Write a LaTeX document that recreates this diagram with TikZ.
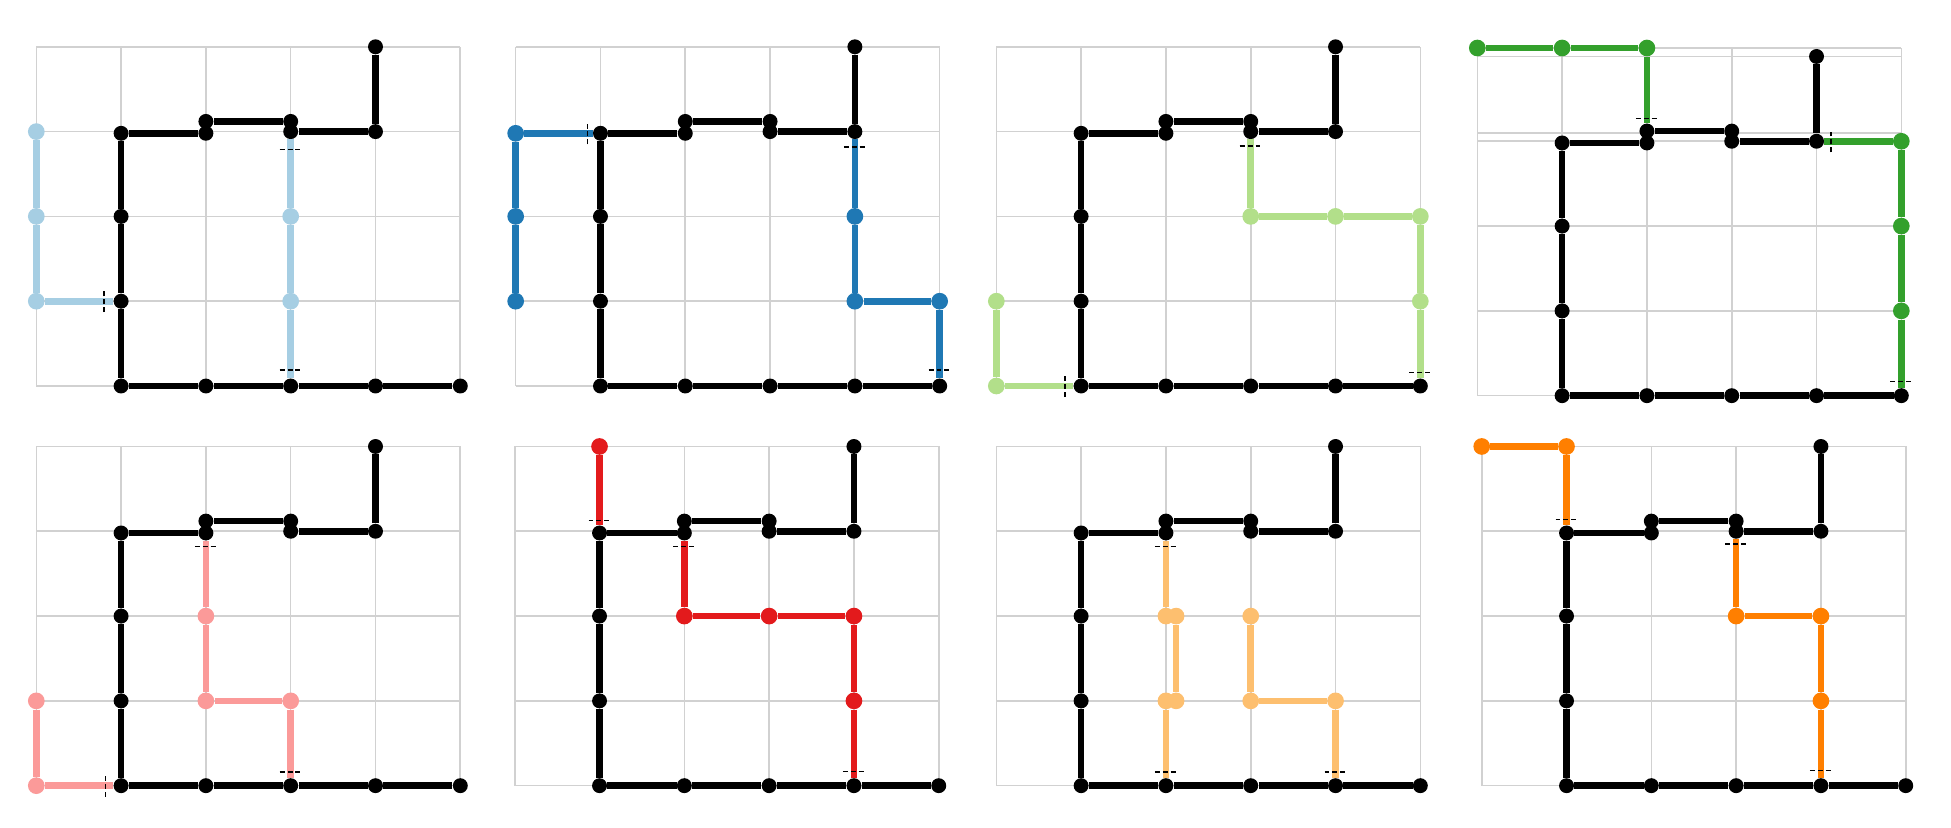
\documentclass[tikz,border=0pt]{standalone}
\usepackage{xcolor}
\definecolor{lb}{HTML}{A6CEE3}
\definecolor{db}{HTML}{1F78B4}
\definecolor{lg}{HTML}{B2DF8A}
\definecolor{dg}{HTML}{33A02C}
\definecolor{pk}{HTML}{FB9A99}
\definecolor{rd}{HTML}{E31A1C}
\definecolor{lo}{HTML}{FDBF6F}
\definecolor{dor}{HTML}{FF7F00}
\tikzset{bdot/.style={circle,fill=black,inner sep=0pt,minimum size=8.5pt}}
\tikzset{cdot/.style={circle,fill=#1,inner sep=0pt,minimum size=9.5pt}}
\tikzset{tour/.style={line width=3.8pt,draw=black}}
\tikzset{walk/.style={line width=3.8pt,draw=#1}}
\tikzset{cut/.style={black,line width=0.75pt,dash pattern=on 2.8pt off 1.7pt}}
\tikzset{gridline/.style={draw=black!18,line width=0.9pt,step={(1,1)}}}
\newcommand{\blacktour}{%
\foreach \n/\x/\y in {1/4/4,2/4/3,3/3/3,4/3/3.12,5/2/3.12,6/2/2.98,7/1/2.98,8/1/2,9/1/1,10/1/0,11/2/0,12/3/0,13/4/0,14/5/0}
  \node[bdot] (b\n) at (\x,\y) {};
\draw[tour] (b1) -- (b2) -- (b3) -- (b4) -- (b5) -- (b6) -- (b7) -- (b8) -- (b9) -- (b10) -- (b11) -- (b12) -- (b13) -- (b14);}
\newcommand{\hcut}[2]{\draw[cut] ([shift={(-0.13,#2)}]#1.center) -- ([shift={(0.13,#2)}]#1.center);}
\newcommand{\vcut}[2]{\draw[cut] ([shift={(#2,-0.13)}]#1.center) -- ([shift={(#2,0.13)}]#1.center);}

\begin{document}
\begin{tikzpicture}[x=1.696cm,y=1.696cm]
\useasboundingbox (0,0) rectangle (23.007,9.764);

\begin{scope}[shift={(0.428,5.212)},name prefix=p1-]
\draw[gridline] (0,0) grid (5,4);
\blacktour
\node[cdot=lb] (c1) at (0,3) {};
\node[cdot=lb] (c2) at (0,2) {};
\node[cdot=lb] (c3) at (0,1) {};
\node[cdot=lb] (c4) at (3,2) {};
\node[cdot=lb] (c5) at (3,1) {};
\draw[walk=lb] (c1) -- (c2) -- (c3) -- (b9);
\draw[walk=lb] (b3) -- (c4) -- (c5) -- (b12);
\vcut{b9}{-0.2}
\hcut{b3}{-0.21}
\hcut{b12}{0.19}
\end{scope}

\begin{scope}[shift={(6.081,5.212)},name prefix=p2-]
\draw[gridline] (0,0) grid (5,4);
\blacktour
\node[cdot=db] (c1) at (0,1) {};
\node[cdot=db] (c2) at (0,2) {};
\node[cdot=db] (c3) at (0,2.98) {};
\node[cdot=db] (c4) at (4,2) {};
\node[cdot=db] (c5) at (4,1) {};
\node[cdot=db] (c6) at (5,1) {};
\draw[walk=db] (c1) -- (c2) -- (c3) -- (b7);
\draw[walk=db] (b2) -- (c4) -- (c5) -- (c6) -- (b14);
\vcut{b7}{-0.15}
\hcut{b2}{-0.18}
\hcut{b14}{0.19}
\end{scope}

\begin{scope}[shift={(11.749,5.212)},name prefix=p3-]
\draw[gridline] (0,0) grid (5,4);
\blacktour
\node[cdot=lg] (c1) at (0,1) {};
\node[cdot=lg] (c2) at (0,0) {};
\node[cdot=lg] (c3) at (3,2) {};
\node[cdot=lg] (c4) at (4,2) {};
\node[cdot=lg] (c5) at (5,2) {};
\node[cdot=lg] (c6) at (5,1) {};
\draw[walk=lg] (c1) -- (c2) -- (b10);
\draw[walk=lg] (b3) -- (c3) -- (c4) -- (c5) -- (c6) -- (b14);
\vcut{b10}{-0.19}
\hcut{b3}{-0.17}
\hcut{b14}{0.16}
\end{scope}

\begin{scope}[shift={(17.421,5.098)},name prefix=p4-]
\draw[gridline] (0,0) grid (5,4.1) (0,3.1) -- (5,3.1) (0,4.1) -- (5,4.1);
\blacktour
\node[cdot=dg] (c1) at (0,4.1) {};
\node[cdot=dg] (c2) at (1,4.1) {};
\node[cdot=dg] (c3) at (2,4.1) {};
\node[cdot=dg] (c4) at (5,3) {};
\node[cdot=dg] (c5) at (5,2) {};
\node[cdot=dg] (c6) at (5,1) {};
\draw[walk=dg] (c1) -- (c2) -- (c3) -- (b5);
\draw[walk=dg] (b2) -- (c4) -- (c5) -- (c6) -- (b14);
\hcut{b5}{0.15}
\vcut{b2}{0.17}
\hcut{b14}{0.165}
\end{scope}

\begin{scope}[shift={(0.428,0.499)},name prefix=p5-]
\draw[gridline] (0,0) grid (5,4);
\blacktour
\node[cdot=pk] (c1) at (0,1) {};
\node[cdot=pk] (c2) at (0,0) {};
\node[cdot=pk] (c3) at (2,2) {};
\node[cdot=pk] (c4) at (2,1) {};
\node[cdot=pk] (c5) at (3,1) {};
\draw[walk=pk] (c1) -- (c2) -- (b10);
\draw[walk=pk] (b6) -- (c3) -- (c4) -- (c5) -- (b12);
\vcut{b10}{-0.18}
\hcut{b6}{-0.16}
\hcut{b12}{0.16}
\end{scope}

\begin{scope}[shift={(6.070,0.499)},name prefix=p6-]
\draw[gridline] (0,0) grid (5,4);
\blacktour
\node[cdot=rd] (c1) at (1,4) {};
\node[cdot=rd] (c2) at (2,2) {};
\node[cdot=rd] (c3) at (3,2) {};
\node[cdot=rd] (c4) at (4,2) {};
\node[cdot=rd] (c5) at (4,1) {};
\draw[walk=rd] (c1) -- (b7);
\draw[walk=rd] (b6) -- (c2) -- (c3) -- (c4) -- (c5) -- (b13);
\hcut{b7}{0.15}
\hcut{b6}{-0.16}
\hcut{b13}{0.17}
\end{scope}

\begin{scope}[shift={(11.749,0.499)},name prefix=p7-]
\draw[gridline] (0,0) grid (5,4);
\blacktour
\node[cdot=lo] (c1) at (2,2) {};
\node[cdot=lo] (c2) at (2.12,2) {};
\node[cdot=lo] (c3) at (2.12,1) {};
\node[cdot=lo] (c4) at (2,1) {};
\node[cdot=lo] (c5) at (3,2) {};
\node[cdot=lo] (c6) at (3,1) {};
\node[cdot=lo] (c7) at (4,1) {};
\draw[walk=lo] (b6) -- (c1) -- (c2) -- (c3) -- (c4) -- (b11);
\draw[walk=lo] (c5) -- (c6) -- (c7) -- (b13);
\hcut{b6}{-0.16}
\hcut{b11}{0.16}
\hcut{b13}{0.16}
\end{scope}

\begin{scope}[shift={(17.473,0.499)},name prefix=p8-]
\draw[gridline] (0,0) grid (5,4);
\blacktour
\node[cdot=dor] (c1) at (0,4) {};
\node[cdot=dor] (c2) at (1,4) {};
\node[cdot=dor] (c3) at (3,2) {};
\node[cdot=dor] (c4) at (4,2) {};
\node[cdot=dor] (c5) at (4,1) {};
\draw[walk=dor] (c1) -- (c2) -- (b7);
\draw[walk=dor] (b3) -- (c3) -- (c4) -- (c5) -- (b13);
\hcut{b7}{0.16}
\hcut{b3}{-0.15}
\hcut{b13}{0.18}
\end{scope}
\end{tikzpicture}
\end{document}
